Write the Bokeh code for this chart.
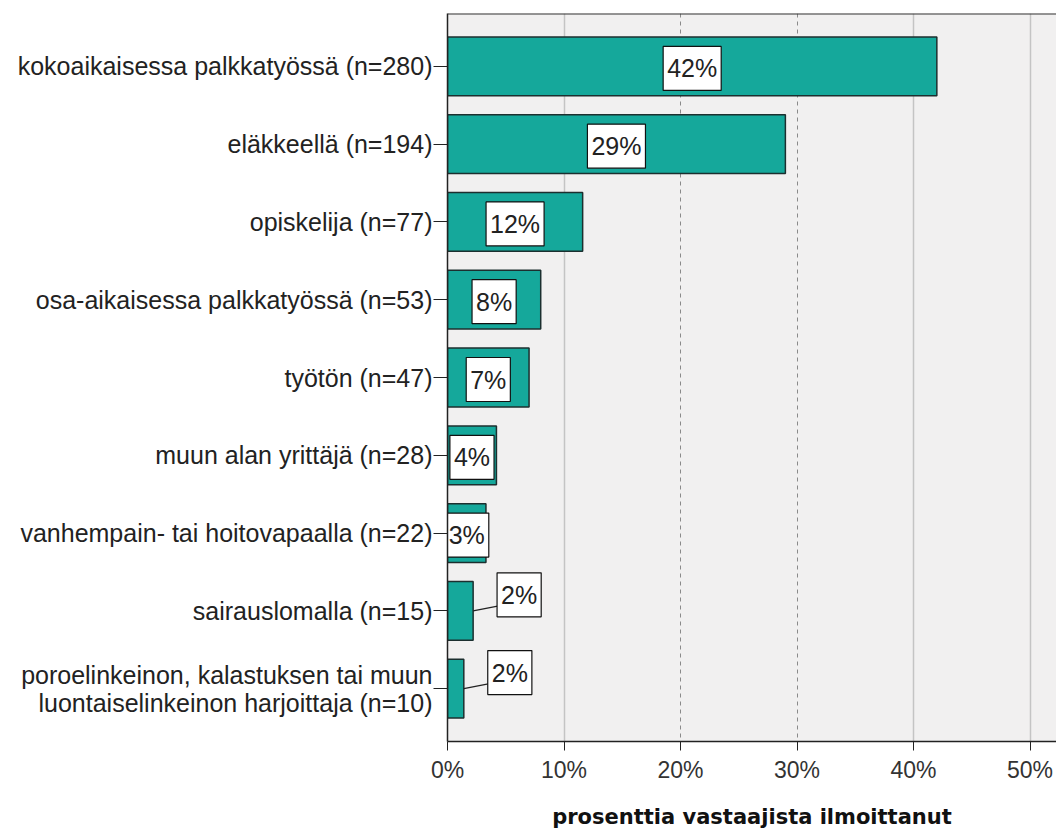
from bokeh.plotting import figure
from bokeh.models import Range1d, FixedTicker, PrintfTickFormatter, Grid, Span, ColumnDataSource
from bokeh.core.properties import value
from bokeh.embed import file_html
from bokeh.resources import INLINE

categories = [
    "kokoaikaisessa palkkatyössä (n=280)",
    "eläkkeellä (n=194)",
    "opiskelija (n=77)",
    "osa-aikaisessa palkkatyössä (n=53)",
    "työtön (n=47)",
    "muun alan yrittäjä (n=28)",
    "vanhempain- tai hoitovapaalla (n=22)",
    "sairauslomalla (n=15)",
    "poroelinkeinon, kalastuksen tai muun\nluontaiselinkeinon harjoittaja (n=10)",
]
percents = [42.0, 29.0, 11.6, 8.0, 7.0, 4.2, 3.3, 2.2, 1.4]
pct_labels = ["42%", "29%", "12%", "8%", "7%", "4%", "3%", "2%", "2%"]
x_ticks = [0, 10, 20, 30, 40, 50]
grid_solid = [10, 40, 50]
grid_dashed = [20, 30]
x_title = "prosenttia vastaajista ilmoittanut"

FONT = "Liberation Sans"
BAR = "#15a89b"

idx = list(range(len(categories)))

p = figure(width=1056, height=831, output_backend="svg", toolbar_location=None,
           x_range=Range1d(0, 52.27), y_range=Range1d(len(categories) - 1 + 0.68, -0.68),
           min_border_left=447, min_border_right=0, min_border_top=13, min_border_bottom=88,
           background_fill_color="#f1f0f0", border_fill_color="white", outline_line_color=None)

p.xgrid.visible = False
p.ygrid.visible = False
p.add_layout(Grid(dimension=0, ticker=FixedTicker(ticks=grid_solid),
                  grid_line_color="#c4c4c4", grid_line_width=1.5))
p.add_layout(Grid(dimension=0, ticker=FixedTicker(ticks=grid_dashed),
                  grid_line_color="#8a8a8a", grid_line_width=1, grid_line_dash="4 4"))

p.hbar(y=idx, left=0, right=percents, height=0.756, fill_color=BAR,
       line_color="#1c2f2f", line_width=1.5)

inside = [i for i in idx if percents[i] >= 3]
outside = [i for i in idx if percents[i] < 3]

src_in = ColumnDataSource(dict(x=[percents[i] / 2 for i in inside], y=inside,
                               t=[pct_labels[i] for i in inside]))
src_out = ColumnDataSource(dict(x=[percents[i] for i in outside], y=outside,
                                t=[pct_labels[i] for i in outside]))

p.segment(x0=[percents[i] for i in outside], y0=outside,
          x1=[percents[i] + 2.1 for i in outside], y1=[i - 0.06 for i in outside],
          line_color="#222222", line_width=1.2)

pad = dict(left=4, right=4, top=8, bottom=8)
p.text(x="x", y="y", text="t", source=src_in, text_font=value(FONT), text_font_size="25px",
       text_color="#222222", text_align="center", text_baseline="middle", y_offset=2,
       background_fill_color="white", border_line_color="#111111", border_line_width=1.2,
       padding=pad)
p.text(x="x", y="y", text="t", source=src_out, text_font=value(FONT), text_font_size="25px",
       text_color="#222222", text_align="center", text_baseline="middle", x_offset=46,
       y_offset=-16, background_fill_color="white", border_line_color="#111111",
       border_line_width=1.2, padding=pad)

# top frame line
p.add_layout(Span(location=-0.68, dimension="width", line_color="#333333", line_width=2))

yax = p.yaxis[0]
yax.ticker = FixedTicker(ticks=idx)
yax.major_label_overrides = {i: c for i, c in zip(idx, categories)}
yax.major_label_text_font = FONT
yax.major_label_text_font_size = "25px"
yax.major_label_text_color = "#222222"
yax.major_label_text_line_height = 1.0
yax.major_tick_out = 14
yax.major_tick_in = 0
yax.minor_tick_line_color = None
yax.major_label_standoff = 1
yax.axis_line_color = "#222222"
yax.axis_line_width = 1.5
yax.major_tick_line_color = "#222222"

xax = p.xaxis[0]
xax.ticker = FixedTicker(ticks=x_ticks)
xax.formatter = PrintfTickFormatter(format="%d%%")
xax.major_label_text_font = FONT
xax.major_label_text_font_size = "23px"
xax.major_label_text_color = "#333333"
xax.major_tick_out = 9
xax.major_tick_in = 0
xax.minor_tick_line_color = None
xax.major_label_standoff = 6
xax.axis_line_color = "#222222"
xax.axis_line_width = 1.5
xax.major_tick_line_color = "#222222"
xax.axis_label = x_title
xax.axis_label_text_font = "DejaVu Sans"
xax.axis_label_text_font_style = "bold"
xax.axis_label_text_font_size = "21px"
xax.axis_label_text_color = "#111111"
xax.axis_label_standoff = 19

open("out.html", "w").write(file_html(p, INLINE))
